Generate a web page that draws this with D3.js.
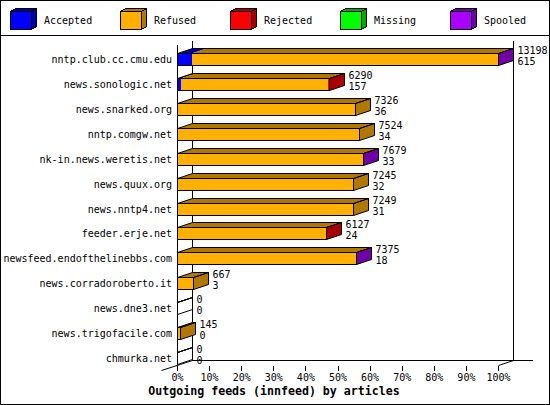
<!DOCTYPE html>
<html>
<head>
<meta charset="utf-8">
<script src="https://cdn.jsdelivr.net/npm/d3@7"></script>
<style>
    body { margin: 0; background: #fff; }
    svg { display: block; font-family: "DejaVu Sans Mono", monospace; }
</style>
</head>
<body>
<svg id="chart"></svg>
<script>
// innfeed outgoing feeds
const feeds = [
    "nntp.club.cc.cmu.edu", "news.sonologic.net", "news.snarked.org", "nntp.comgw.net",
    "nk-in.news.weretis.net", "news.quux.org", "news.nntp4.net", "feeder.erje.net",
    "newsfeed.endofthelinebbs.com", "news.corradoroberto.it", "news.dne3.net",
    "news.trigofacile.com", "chmurka.net"
];
const offered  = [13198, 6290, 7326, 7524, 7679, 7245, 7249, 6127, 7375, 667, 0, 145, 0];
const accepted = [615, 157, 36, 34, 33, 32, 31, 24, 18, 3, 0, 0, 0];
const refused  = [12543, 6033, 7290, 7490, 7626, 7213, 7218, 6063, 7332, 664, 0, 145, 0];
const rejected = [0, 100, 0, 0, 0, 0, 0, 40, 0, 0, 0, 0, 0];
const missing  = [0, 0, 0, 0, 0, 0, 0, 0, 0, 0, 0, 0, 0];
const spooled  = [40, 0, 0, 0, 20, 0, 0, 0, 25, 0, 0, 0, 0];

const seriesNames = ["Accepted", "Refused", "Rejected", "Missing", "Spooled"];
const pctTicks = [0, 10, 20, 30, 40, 50, 60, 70, 80, 90, 100];
const title = "Outgoing feeds (innfeed) by articles";

const colors = ["#0000ff", "#ffb000", "#ff0000", "#00ff00", "#aa00ff"];
const shades = ["#0000a8", "#b07800", "#a80000", "#00a800", "#7000a8"];

const width = 550, height = 405;
const depthX = 15, depthY = 5, barH = 12;

const svg = d3.select("#chart")
    .attr("width", width)
    .attr("height", height)
    .attr("shape-rendering", "crispEdges");

svg.append("rect")
    .attr("x", 0.5).attr("y", 0.5)
    .attr("width", width - 1).attr("height", height - 1)
    .attr("fill", "#fff").attr("stroke", "#000");

svg.append("line")
    .attr("x1", 0).attr("x2", width)
    .attr("y1", 35.5).attr("y2", 35.5)
    .attr("stroke", "#000");

// legend: little cubes
const legend = svg.append("g").selectAll("g")
    .data(seriesNames)
    .enter().append("g")
    .attr("transform", (d, i) => `translate(${i * 110},0)`);

legend.append("path")
    .attr("d", "M31.5,11.5 L36.5,8.5 L36.5,26.5 L31.5,29.5 Z M10.5,11.5 L15.5,8.5 L36.5,8.5 L31.5,11.5 Z")
    .attr("fill", (d, i) => shades[i])
    .attr("stroke", "#000");
legend.append("rect")
    .attr("x", 10.5).attr("y", 11.5)
    .attr("width", 21).attr("height", 18)
    .attr("fill", (d, i) => colors[i])
    .attr("stroke", "#000");
legend.append("text")
    .attr("x", 44).attr("y", 24)
    .attr("font-size", 10)
    .text(d => d);

// scales
const x = d3.scaleLinear().domain([0, d3.max(offered)]).range([177, 498]);
const xPct = d3.scaleLinear().domain([0, 100]).range([177, 498]);
const y = d3.scaleBand().domain(feeds).range([46.5, 370.5]);

const px = v => Math.floor(v) + 0.5;

// back wall and floor
const x0 = px(x(0)), x1 = px(x(d3.max(offered)));
const frame = svg.append("g").attr("stroke", "#000").attr("fill", "none");
frame.append("line").attr("x1", x0 + depthX).attr("x2", x0 + depthX).attr("y1", 40.5).attr("y2", 360.5);
frame.append("line").attr("x1", x1 + depthX).attr("x2", x1 + depthX).attr("y1", 40.5).attr("y2", 360.5);
frame.append("line").attr("x1", x0 + depthX).attr("x2", x1 + depthX + 19).attr("y1", 360.5).attr("y2", 360.5);
frame.append("line").attr("x1", x0).attr("x2", x0).attr("y1", 44.5).attr("y2", 365.5);
frame.append("line").attr("x1", x0 - 16).attr("x2", x0 + depthX).attr("y1", 370.5).attr("y2", 360.5)
    .attr("shape-rendering", "auto");
frame.append("line").attr("x1", x1).attr("x2", x1 + depthX).attr("y1", 365.5).attr("y2", 360.5)
    .attr("shape-rendering", "auto");

// x axis (percent of the biggest feed)
const axis = svg.append("g")
    .attr("transform", "translate(0,365.5)")
    .call(d3.axisBottom(xPct).tickValues(pctTicks).tickFormat(d => d + "%").tickSize(5).tickPadding(3));
axis.select(".domain").remove();
axis.selectAll("text").attr("font-family", "DejaVu Sans Mono").attr("font-size", 10).attr("fill", "#000");
axis.selectAll("line").attr("stroke", "#000");

// stacked 3d bars
const rows = feeds.map((f, i) => ({
    feed: f,
    Accepted: accepted[i], Refused: refused[i], Rejected: rejected[i],
    Missing: missing[i], Spooled: spooled[i]
}));
const stacked = d3.stack().keys(seriesNames)(rows);

const topFace = (a, b, t) =>
    `M${a},${t} L${b},${t} L${b + depthX},${t - depthY} L${a + depthX},${t - depthY} Z`;

const bars = svg.append("g");
feeds.forEach((feed, i) => {
    const c = y(feed) + y.bandwidth() / 2;
    const top = Math.round(c - barH / 2) + 0.5, bot = top + barH;
    const g = bars.append("g");
    let last = -1;

    stacked.forEach((layer, s) => {
        const [v0, v1] = layer[i];
        if (v1 <= v0) return;
        last = s;
        const a = px(x(v0)), b = px(x(v1));
        if (b <= a) return;
        g.append("rect")
            .attr("x", a).attr("y", top)
            .attr("width", b - a).attr("height", barH)
            .attr("fill", colors[s]);
        g.append("path")
            .attr("d", topFace(a, b, top))
            .attr("fill", shades[s])
            .attr("shape-rendering", "auto");
    });

    const end = px(x(stacked[stacked.length - 1][i][1]));
    g.append("path")
        .attr("d", `M${end},${top} L${end + depthX},${top - depthY} L${end + depthX},${bot - depthY} L${end},${bot} Z`)
        .attr("fill", last >= 0 ? shades[last] : "#fff")
        .attr("stroke", "#000")
        .attr("shape-rendering", "auto");
    g.append("path")
        .attr("d", topFace(x0, end, top))
        .attr("fill", "none")
        .attr("stroke", "#000")
        .attr("shape-rendering", "auto");
    g.append("rect")
        .attr("x", x0).attr("y", top)
        .attr("width", end - x0).attr("height", barH)
        .attr("fill", "none")
        .attr("stroke", "#000");

    // offered / accepted counts
    g.append("text")
        .attr("x", end + depthX + 4).attr("y", c - 5)
        .attr("font-size", 10)
        .text(offered[i]);
    g.append("text")
        .attr("x", end + depthX + 4).attr("y", c + 6)
        .attr("font-size", 10)
        .text(accepted[i]);

    g.append("text")
        .attr("x", 172).attr("y", c + 4)
        .attr("text-anchor", "end")
        .attr("font-size", 10)
        .text(feed);
});

svg.append("text")
    .attr("x", 274).attr("y", 395)
    .attr("text-anchor", "middle")
    .attr("font-size", 11.6)
    .attr("font-weight", "bold")
    .text(title);
</script>
</body>
</html>
